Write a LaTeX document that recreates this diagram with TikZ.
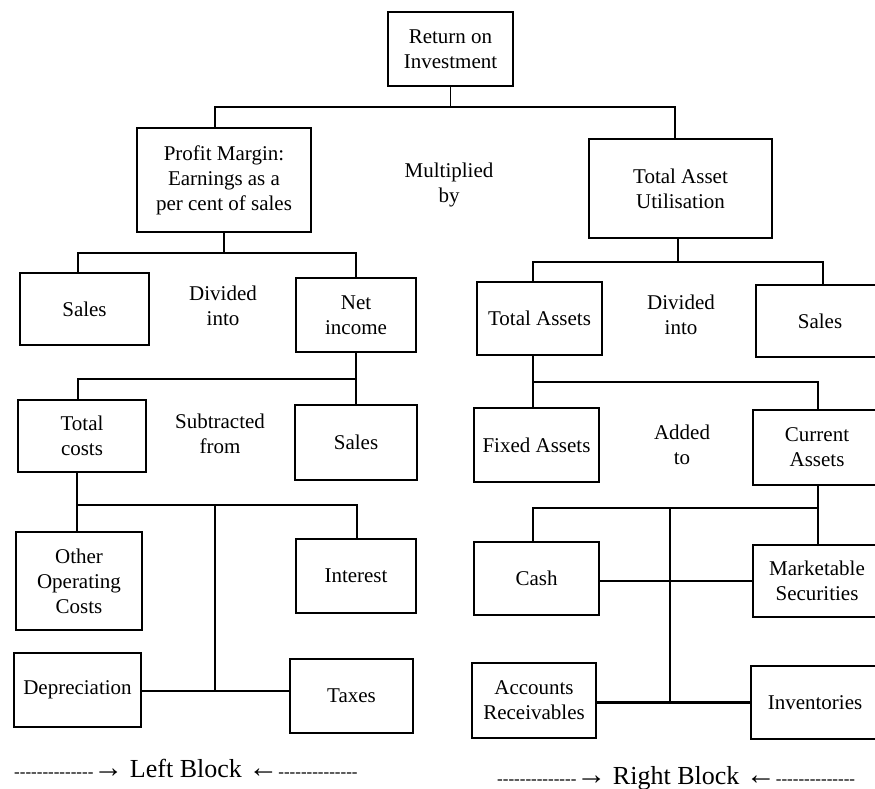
\documentclass[tikz,border=0pt]{standalone}
\usepackage{fontspec}
\setmainfont{Liberation Serif}
\newfontfamily\plainserif{Liberation Serif}
\newcommand\dashrun{{\fontsize{17}{17}\selectfont\plainserif --------------}}
\newcommand\arrowsym[1]{{\fontsize{30}{30}\selectfont #1}}
\begin{document}
\begin{tikzpicture}[x=1pt,y=-1pt,
  box/.style={draw, line width=1.6pt, align=center, inner sep=0pt,
    font=\fontsize{21}{25}\selectfont},
  lbl/.style={align=center, inner sep=0pt, font=\fontsize{21}{25}\selectfont},
  blk/.style={inner sep=0pt, font=\fontsize{26}{26}\selectfont\plainserif},
  conn/.style={line width=1.4pt},
  thickconn/.style={line width=3pt}]
\useasboundingbox (0,0) rectangle (875,789);
\fill[white] (0,0) rectangle (875,789);
\clip (0,0) rectangle (875,789);

% boxes
\node[box, minimum width=125pt, minimum height=74pt] (roi) at (450.5,49) {Return on\\Investment};
\node[box, minimum width=174pt, minimum height=104pt] (pm) at (224,180) {Profit Margin:\\Earnings as a\\per cent of sales};
\node[box, minimum width=183pt, minimum height=99pt] (tau) at (680.5,188.5) {Total Asset\\Utilisation};

\node[box, minimum width=129pt, minimum height=72pt] (sales1) at (84.5,309) {Sales};
\node[box, minimum width=120pt, minimum height=74pt] (netinc) at (356,315) {Net\\income};
\node[box, minimum width=125pt, minimum height=73pt] (tass) at (539.5,318.5) {Total Assets};
\node[box, minimum width=128pt, minimum height=72pt] (sales2) at (820,321) {Sales};

\node[box, minimum width=128pt, minimum height=72pt] (tcost) at (82,436) {Total\\costs};
\node[box, minimum width=122pt, minimum height=75pt] (sales3) at (356,442.5) {Sales};
\node[box, minimum width=125pt, minimum height=74pt] (fixed) at (536.5,445) {Fixed Assets};
\node[box, minimum width=128pt, minimum height=75pt] (curr) at (817,447.5) {Current\\Assets};

\node[box, minimum width=126pt, minimum height=98pt] (ooc) at (79,581) {Other\\Operating\\Costs};
\node[box, minimum width=120pt, minimum height=74pt] (interest) at (356,576) {Interest};
\node[box, minimum width=127pt, minimum height=74pt] (dep) at (77.5,690) {Depreciation};
\node[box, minimum width=123pt, minimum height=74pt] (taxes) at (351.5,696) {Taxes};

\node[box, minimum width=125pt, minimum height=73pt] (cash) at (536.5,578.5) {Cash};
\node[box, minimum width=128pt, minimum height=72pt] (mkt) at (817,581) {Marketable\\Securities};
\node[box, minimum width=124pt, minimum height=75pt] (ar) at (534,700.5) {Accounts\\Receivables};
\node[box, minimum width=128pt, minimum height=73pt] (inv) at (815,702.5) {Inventories};

% operation labels
\node[lbl] (mult) at (449,185) {Multiplied\\by};
\node[lbl] (div1) at (223,306) {Divided\\into};
\node[lbl] (div2) at (681,315) {Divided\\into};
\node[lbl] (sub) at (220,434) {Subtracted\\from};
\node[lbl] (add) at (682,445) {Added\\to};

% level 1
\coordinate (a1) at (215,107);
\coordinate (a2) at (675,107);
\draw[conn] (roi) -- (roi |- a1);
\draw[conn] (pm.north -| a1) -- (a1) -- (a2) -- (tau.north -| a2);

% level 2 left
\coordinate (b1) at (78,253);
\coordinate (b2) at (356,253);
\draw[conn] (pm) -- (pm |- b1);
\draw[conn] (sales1.north -| b1) -- (b1) -- (b2) -- (netinc.north -| b2);

% level 2 right
\coordinate (c1) at (533,262);
\coordinate (c2) at (823,262);
\coordinate (c0) at (678,262);
\draw[conn] (tau.south -| c0) -- (c0);
\draw[conn] (tass.north -| c1) -- (c1) -- (c2) -- (sales2.north -| c2);

% level 3 left
\coordinate (d1) at (78,379);
\coordinate (d2) at (356,379);
\draw[conn] (netinc) -- (sales3);
\draw[conn] (tcost.north -| d1) -- (d1) -- (d2);

% level 3 right
\coordinate (e1) at (533,382);
\coordinate (e2) at (818,382);
\draw[conn] (tass.south -| e1) -- (fixed.north -| e1);
\draw[conn] (e1) -- (e2) -- (curr.north -| e2);

% level 4 left
\coordinate (f1) at (77,505);
\coordinate (f2) at (357,505);
\coordinate (fm) at (215,505);
\coordinate (fd) at (215,691);
\draw[conn] (tcost.south -| f1) -- (ooc.north -| f1);
\draw[conn] (f1) -- (f2) -- (interest.north -| f2);
\draw[conn] (fm) -- (fd);
\draw[conn] (dep.east |- fd) -- (taxes.west |- fd);

% level 4 right
\coordinate (g1) at (533,508);
\coordinate (g2) at (818,508);
\coordinate (gm) at (670,508);
\coordinate (gc) at (670,581);
\coordinate (gd) at (670,702);
\draw[conn] (curr.south -| g2) -- (mkt.north -| g2);
\draw[conn] (cash.north -| g1) -- (g1) -- (g2);
\draw[conn] (gm) -- (gd);
\draw[conn] (cash.east |- gc) -- (mkt.west |- gc);
\draw[thickconn] (ar.east |- gd) -- (inv.west |- gd);

% block labels
\node[blk, anchor=west] (lblk) at (14,768) {\dashrun{}\arrowsym{→} Left Block \arrowsym{←}\dashrun};
\node[blk, anchor=west] (rblk) at (497,778) {\dashrun{}\arrowsym{→} Right Block \arrowsym{←}\dashrun};
\end{tikzpicture}
\end{document}
